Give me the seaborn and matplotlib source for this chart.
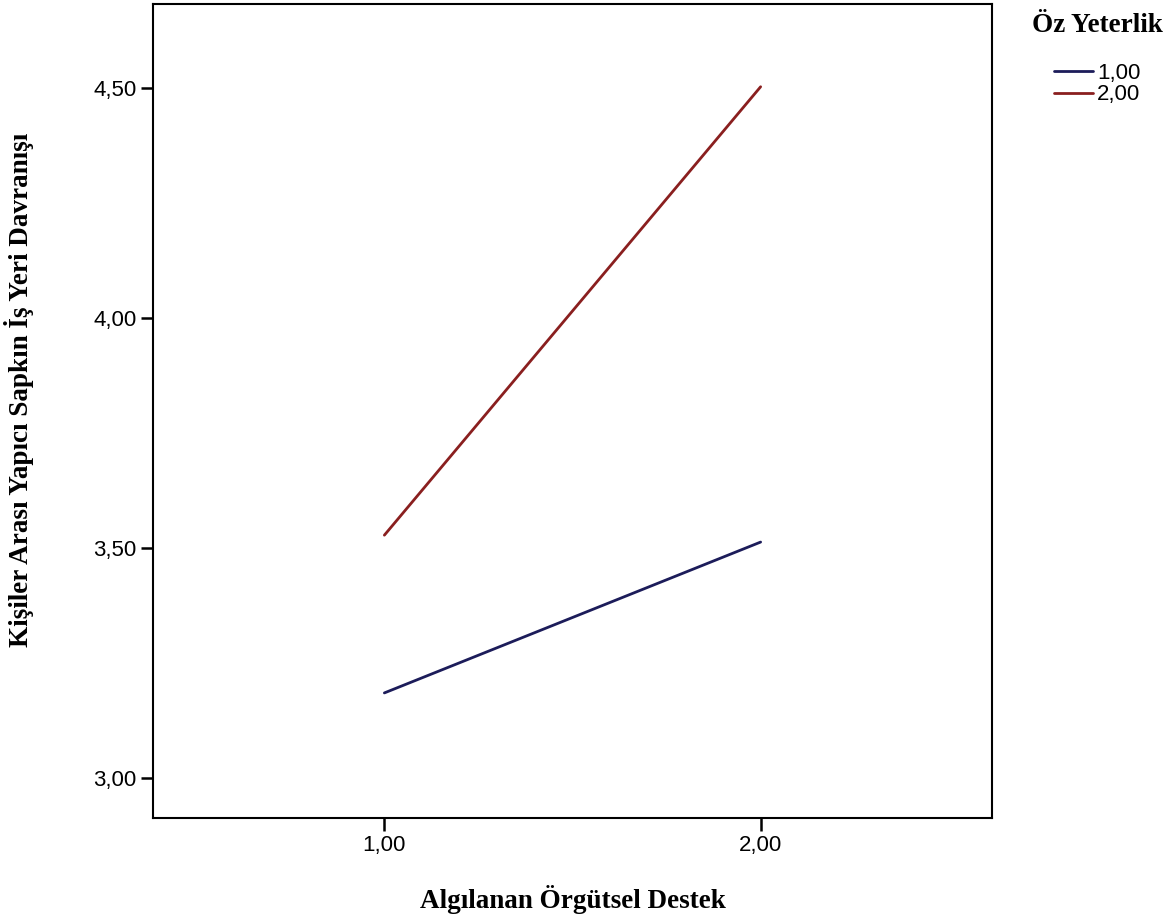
import pandas as pd
import seaborn as sns
import matplotlib.pyplot as plt

# Algılanan Örgütsel Destek x Öz Yeterlik
destek = [1.0, 2.0, 1.0, 2.0]
yeterlik = ['1,00', '1,00', '2,00', '2,00']
ortalama = [3.185, 3.513, 3.528, 4.503]

x_ticks = [1.0, 2.0]
x_labels = ['1,00', '2,00']
y_ticks = [3.0, 3.5, 4.0, 4.5]
y_labels = ['3,00', '3,50', '4,00', '4,50']

renkler = {'1,00': '#1c1c5a', '2,00': '#8a1f1f'}

df = pd.DataFrame({'destek': destek, 'yeterlik': yeterlik, 'ortalama': ortalama})

sns.set_style('white')
plt.rcParams['font.family'] = ['Liberation Sans', 'DejaVu Sans']
plt.rcParams['text.color'] = 'black'

fig = plt.figure(figsize=(11.74, 9.24), dpi=100)
ax = fig.add_axes([0.1303, 0.1147, 0.845 - 0.1303, 0.9957 - 0.1147])

sns.lineplot(data=df, x='destek', y='ortalama', hue='yeterlik',
             palette=renkler, linewidth=2, ax=ax, legend=False)

ax.set_xlim(0.385, 2.615)
ax.set_ylim(2.913, 4.683)
ax.set_xticks(x_ticks)
ax.set_xticklabels(x_labels, fontsize=16)
ax.set_yticks(y_ticks)
ax.set_yticklabels(y_labels, fontsize=16)
ax.tick_params(axis='both', direction='out', length=9, width=1.8, color='black',
               labelcolor='black', left=True, bottom=True, pad=3)
for sp in ax.spines.values():
    sp.set_color('black')
    sp.set_linewidth(1.5)

ax.set_xlabel('Algılanan Örgütsel Destek', family=['Liberation Serif'],
              fontweight='bold', fontsize=19.5, color='black')
ax.xaxis.set_label_coords(0.5, -0.082)
ax.set_ylabel('Kişiler Arası Yapıcı Sapkın İş Yeri Davranışı', family=['Liberation Serif'],
              fontweight='bold', fontsize=19.5, color='black')
ax.yaxis.set_label_coords(-0.142, 0.526)

handles = [plt.Line2D([], [], color=renkler[k], lw=2) for k in ['1,00', '2,00']]
leg = fig.legend(handles, ['1,00', '2,00'], loc='upper left',
                 bbox_to_anchor=(0.879, 0.986), frameon=False, fontsize=16,
                 handlelength=1.75, handletextpad=0.2, labelspacing=0.02,
                 borderaxespad=0, borderpad=0,
                 title='Öz Yeterlik')
leg.get_title().set_family(['Liberation Serif'])
leg.get_title().set_fontweight('bold')
leg.get_title().set_fontsize(19.5)
leg._legend_box.sep = 18

fig.savefig('out.png', dpi=100)
